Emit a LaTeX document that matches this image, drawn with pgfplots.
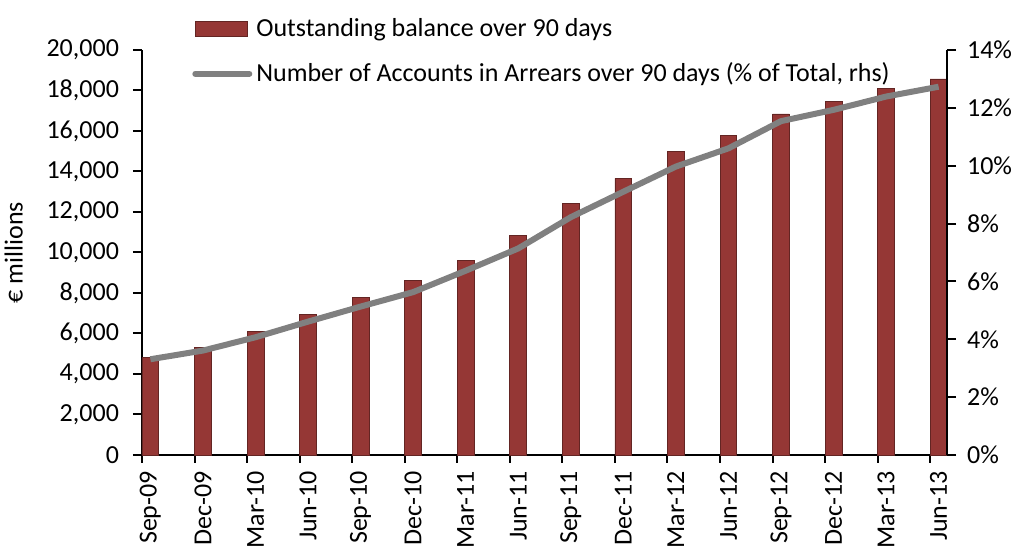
\documentclass[border=0pt]{standalone}
\usepackage{fontspec}
\setmainfont{Carlito}
\usepackage{pgfplots}
\pgfplotsset{compat=1.18}
\usetikzlibrary{calc}
\definecolor{barred}{RGB}{149,55,53}
\definecolor{baredge}{RGB}{99,37,35}
\definecolor{linegray}{RGB}{128,128,128}

\pgfplotsset{
  base/.style={
    scale only axis,
    width=402.5pt, height=202.5pt,
    xmin=-0.16, xmax=15.16,
    tick align=outside,
    axis line style={-, line width=1pt},
    tick style={black, line width=1pt},
    major tick length=4.5pt,
    minor tick length=4pt,
    /pgf/number format/assume math mode=true,
    tick label style={font=\fontsize{13}{15}\selectfont},
    label style={font=\fontsize{13}{15}\selectfont},
  }
}

\begin{document}
\begin{tikzpicture}
% balance, left axis
\begin{axis}[
    base,
    ybar, bar width=0.32,
    ymin=0, ymax=20000,
    ytick={0,2000,...,20000},
    scaled y ticks=false,
    yticklabel style={/pgf/number format/1000 sep={,}, xshift=-3.5pt},
    axis x line*=bottom, axis y line*=left,
    xtick={0,...,15},
    xticklabels={Sep-09,Dec-09,Mar-10,Jun-10,Sep-10,Dec-10,Mar-11,Jun-11,
                 Sep-11,Dec-11,Mar-12,Jun-12,Sep-12,Dec-12,Mar-13,Jun-13},
    xticklabel style={rotate=90, anchor=east},
    major x tick style={draw=none},
    minor xtick={-0.16,0.84,...,14.84},
    ylabel={€ millions},
    ylabel shift=5pt,
    clip=false,
]
\addplot[fill=barred, draw=baredge, line width=0.4pt] coordinates {
  (0,4800) (1,5300) (2,6090) (3,6930) (4,7790) (5,8600) (6,9600) (7,10820)
  (8,12400) (9,13660) (10,15000) (11,15770) (12,16840) (13,17480) (14,18120) (15,18570)
};
\coordinate (bl) at (rel axis cs:0,0);
\coordinate (tr) at (rel axis cs:1,1);
\end{axis}

% accounts in arrears, right axis
\begin{axis}[
    base,
    axis x line=none, axis y line*=right,
    ymin=0, ymax=14,
    ytick={0,2,...,14},
    yticklabel={\pgfmathprintnumber{\tick}\%},
    yticklabel style={xshift=2pt},
    legend style={at={(rel axis cs:0.062,1.088)}, anchor=north west,
                  draw=none, fill=none, inner sep=0pt,
                  font=\fontsize{13}{15}\selectfont, row sep=7.5pt},
    legend cell align=left,
]
\addlegendimage{legend image code/.code={
  \draw[fill=barred, draw=baredge, line width=0.4pt] (0pt,-3.75pt) rectangle (26pt,3.75pt);}}
\addlegendentry{Outstanding balance over 90 days}
\addplot[linegray, line width=3pt, line join=round,
  legend image code/.code={\draw[linegray, line width=3pt, line cap=round] (0pt,0pt) -- (27pt,0pt);}]
  coordinates {
  (0,3.31) (1,3.61) (2,4.07) (3,4.61) (4,5.13) (5,5.63) (6,6.37) (7,7.14)
  (8,8.22) (9,9.10) (10,9.97) (11,10.60) (12,11.54) (13,11.93) (14,12.39) (15,12.73)
};
\addlegendentry{Number of Accounts in Arrears over 90 days (\% of Total, rhs)}
\end{axis}

\pgfresetboundingbox
\useasboundingbox ($(bl)+(-71pt,-47pt)$) rectangle ($(tr)+(36.5pt,25pt)$);
\end{tikzpicture}
\end{document}
